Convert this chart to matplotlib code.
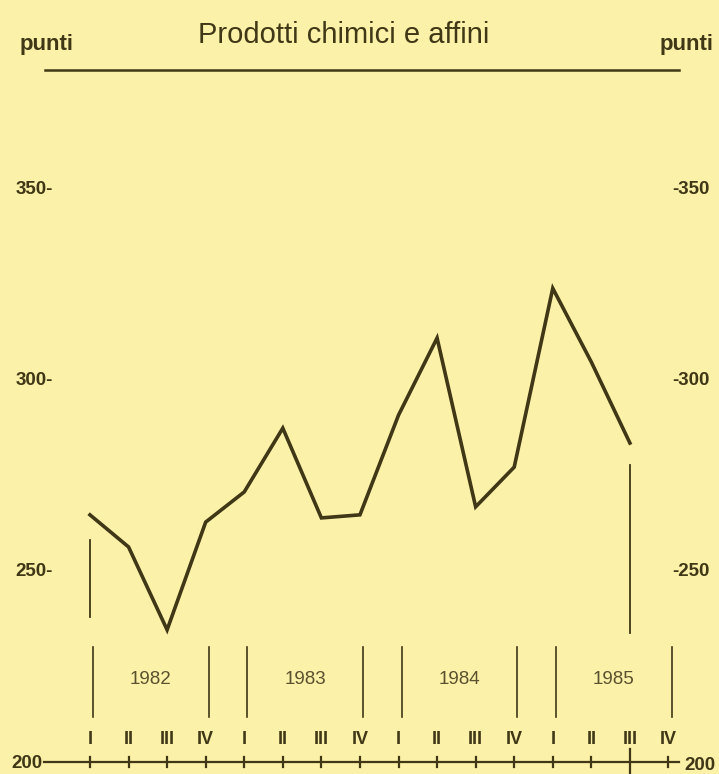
import matplotlib
matplotlib.use("Agg")
import matplotlib.pyplot as plt

# data (index of industrial production, chemicals)
years = ["1982", "1983", "1984", "1985"]
quarters = ["I", "II", "III", "IV"]
values = [264.7, 256.3, 234.6, 262.8,
          270.7, 287.4, 263.9, 264.7,
          290.8, 311.0, 266.8, 277.2,
          324.0, 304.7, 283.5]
yticks = [250, 300, 350]

bg = "#fbf1a8"
ink = "#3f3716"
sans = ["Liberation Sans", "DejaVu Sans"]

fig = plt.figure(figsize=(7.19, 7.74), dpi=100, facecolor=bg)
ax = fig.add_axes([0, 0, 1, 1])
ax.set_facecolor(bg)
ax.set_xlim(-2.333, 16.31)
ax.set_ylim(196.86, 399.48)
ax.axis("off")

nq = len(years) * len(quarters)
xs = list(range(len(values)))

# series
ax.plot(xs, values, color=ink, lw=2.6, solid_joinstyle="miter")

# start / end markers
ax.plot([0, 0], [258.1, 238.0], color=ink, lw=1.3)
ax.plot([14, 14], [277.7, 233.8], color=ink, lw=1.3)

# baseline with quarter ticks
ax.plot([-1.19, 15.27], [200, 200], color=ink, lw=1.6)
for i in range(nq):
    lo, hi = (197.0, 203.5) if i == 14 else (198.7, 201.3)
    ax.plot([i, i], [lo, hi], color=ink, lw=1.6)
    ax.text(i, 205.8, quarters[i % 4], ha="center", va="center",
            fontsize=13, fontweight="bold", family=sans, color=ink)

# year brackets
for k, yr in enumerate(years):
    a, b = 4 * k, 4 * k + 3
    for xx in (a, b):
        ax.plot([xx + 0.08, xx + 0.08], [211.8, 230.1], color=ink, lw=1.2)
    ax.text((a + b) / 2 + 0.08, 221.5, yr, ha="center", va="center",
            fontsize=13.5, color="#5a5130", family=sans)

# y labels both sides
for v in yticks:
    ax.text(-0.96, v, str(v) + "-", ha="right", va="center",
            fontsize=13.5, fontweight="bold", family=sans, color=ink)
    ax.text(15.1, v, "-" + str(v), ha="left", va="center",
            fontsize=13.5, fontweight="bold", family=sans, color=ink)
ax.text(-1.22, 199.5, "200", ha="right", va="center",
        fontsize=13.5, fontweight="bold", family=sans, color=ink)
ax.text(15.42, 199.0, "200", ha="left", va="center",
        fontsize=13.5, fontweight="bold", family=sans, color=ink)

# header
ax.text(6.57, 390.3, "Prodotti chimici e affini", ha="center", va="center",
        fontsize=21, color=ink, family=sans)
ax.text(-1.82, 387.8, "punti", ha="left", va="center",
        fontsize=16, fontweight="bold", color=ink, family=sans)
ax.text(16.18, 387.8, "punti", ha="right", va="center",
        fontsize=16, fontweight="bold", color=ink, family=sans)
ax.plot([-1.17, 15.27], [381.2, 381.2], color=ink, lw=1.8)

fig.savefig("out.png", dpi=100, facecolor=bg)
